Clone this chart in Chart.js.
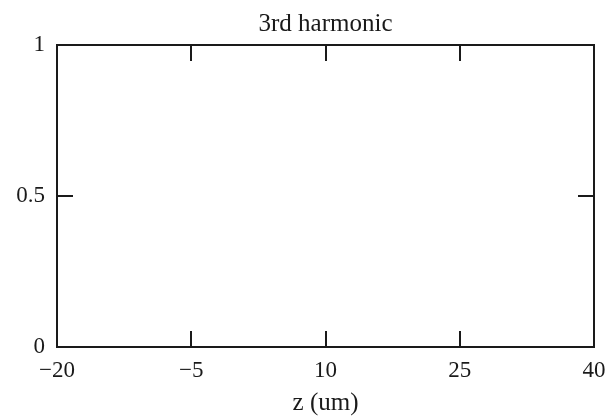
<!DOCTYPE html>
<html>
<head>
<meta charset="utf-8">
<script src="https://cdn.jsdelivr.net/npm/chart.js"></script>
<style>
  html, body { margin: 0; padding: 0; background: #fff; }
  #wrap { width: 610px; height: 418px; }
</style>
</head>
<body>
<div id="wrap"><canvas id="harmonicChart" width="610" height="418"></canvas></div>
<script>
// axis ranges and tick labels
const zRange = [-20, 40];
const ampRange = [0, 1];
const zTicks = [-20, -5, 10, 25, 40];
const ampTicks = [0, 0.5, 1];

// the plotted curve: the reference shows an empty plot
const zValues = [];
const ampValues = [];

const chartTitle = '3rd harmonic';
const xTitle = 'z (um)';

const serif = 'Liberation Serif';
const ink = '#1a1a1a';

// frame with inward tick marks on all four sides
const framePlugin = {
    id: 'frame',
    afterDraw(chart) {
        const ctx = chart.ctx;
        const area = chart.chartArea;
        const xs = chart.scales.x;
        const ys = chart.scales.y;
        const len = 16;
        ctx.save();
        ctx.strokeStyle = ink;
        ctx.lineWidth = 2;
        ctx.strokeRect(area.left, area.top, area.right - area.left, area.bottom - area.top);
        ctx.beginPath();
        zTicks.forEach(v => {
            const px = Math.round(xs.getPixelForValue(v));
            ctx.moveTo(px, area.bottom);
            ctx.lineTo(px, area.bottom - len);
            ctx.moveTo(px, area.top);
            ctx.lineTo(px, area.top + len);
        });
        ampTicks.forEach(v => {
            const py = Math.round(ys.getPixelForValue(v));
            ctx.moveTo(area.left, py);
            ctx.lineTo(area.left + len, py);
            ctx.moveTo(area.right, py);
            ctx.lineTo(area.right - len, py);
        });
        ctx.stroke();
        ctx.restore();
    }
};

const ctx = document.getElementById('harmonicChart').getContext('2d');
const harmonicChart = new Chart(ctx, {
    type: 'scatter',
    data: {
        datasets: [{
            label: chartTitle,
            data: zValues.map((z, i) => ({ x: z, y: ampValues[i] })),
            borderColor: ink,
            showLine: true,
            pointRadius: 0
        }]
    },
    options: {
        responsive: false,
        animation: false,
        layout: { padding: { left: 0, right: 16, top: 0, bottom: 0 } },
        plugins: {
            legend: { display: false },
            tooltip: { enabled: false }
        },
        scales: {
            // top axis only carries the title so it centres on the plot
            x2: {
                type: 'linear',
                position: 'top',
                min: zRange[0],
                max: zRange[1],
                afterFit: scale => {
                    scale.height = 45;
                    scale.paddingLeft = 0;
                    scale.paddingRight = 0;
                },
                grid: { display: false },
                border: { display: false },
                ticks: { display: false },
                title: {
                    display: true,
                    text: chartTitle,
                    color: ink,
                    font: { family: serif, size: 25 },
                    padding: { top: 9, bottom: 0 }
                }
            },
            x: {
                type: 'linear',
                position: 'bottom',
                min: zRange[0],
                max: zRange[1],
                afterBuildTicks: scale => { scale.ticks = zTicks.map(v => ({ value: v })); },
                afterFit: scale => {
                    scale.height = 71;
                    scale.paddingLeft = 0;
                    scale.paddingRight = 0;
                },
                grid: { display: false },
                border: { display: false },
                ticks: {
                    color: ink,
                    padding: 2,
                    maxRotation: 0,
                    font: { family: serif, size: 23 },
                    callback: v => String(v).replace('-', '\u2212')
                },
                title: {
                    display: true,
                    text: xTitle,
                    color: ink,
                    font: { family: serif, size: 25 },
                    padding: { top: 0, bottom: 0 }
                }
            },
            y: {
                type: 'linear',
                min: ampRange[0],
                max: ampRange[1],
                afterBuildTicks: scale => { scale.ticks = ampTicks.map(v => ({ value: v })); },
                afterFit: scale => { scale.width = 57; },
                grid: { display: false },
                border: { display: false },
                ticks: {
                    color: ink,
                    padding: 4,
                    font: { family: serif, size: 23 },
                    callback: v => String(v)
                }
            }
        }
    },
    plugins: [framePlugin]
});
</script>
</body>
</html>
